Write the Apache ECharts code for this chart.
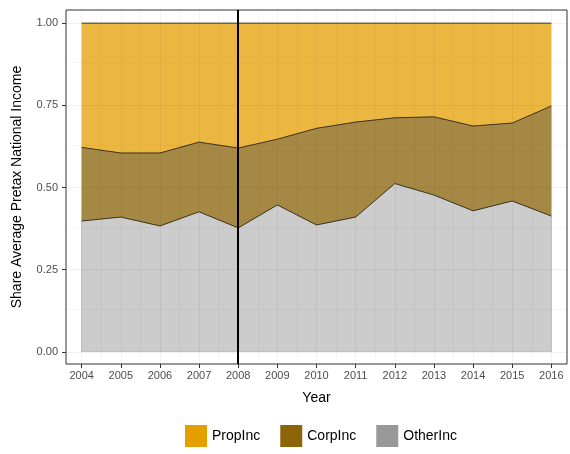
<!DOCTYPE html><html><head><meta charset="utf-8"><script src="https://cdn.jsdelivr.net/npm/echarts@6/dist/echarts.min.js"></script></head><body style="margin:0"><div id="c" style="width:570px;height:454px"></div><script>
const years=[2004,2005,2006,2007,2008,2009,2010,2011,2012,2013,2014,2015,2016];
const otherInc=[0.398,0.410,0.383,0.426,0.377,0.447,0.386,0.410,0.512,0.477,0.429,0.459,0.413];
const corpInc=[0.224,0.195,0.222,0.212,0.243,0.200,0.294,0.289,0.200,0.238,0.258,0.237,0.335];
const propInc=[0.378,0.395,0.395,0.362,0.380,0.353,0.320,0.301,0.288,0.285,0.313,0.304,0.252];
const yTicks=[0,0.25,0.5,0.75,1];
const cum1=otherInc, cum2=otherInc.map((v,i)=>v+corpInc[i]), cum3=cum2.map((v,i)=>v+propInc[i]);
const F='Liberation Sans, Arial, sans-serif';
const mk=(name,data,col,z)=>({name,type:'line',data:data.map((v,i)=>[years[i],v]),symbol:'none',
 lineStyle:{color:'#3a3220',width:1},itemStyle:{color:col},areaStyle:{color:col,opacity:1},z});
const majX=years, minX=years.slice(0,-1).map(y=>y+0.5);
const majY=yTicks, minY=[0.125,0.375,0.625,0.875];
const c=echarts.init(document.getElementById('c'));
c.setOption({animation:false,textStyle:{fontFamily:F},
grid:{left:66,right:3,top:10,bottom:90,show:true,borderColor:'#333',borderWidth:1},
legend:{bottom:2,left:180,itemWidth:22,itemHeight:22,itemGap:20,icon:'rect',textStyle:{fontSize:14,color:'#000',fontFamily:F},
 data:[{name:'PropInc',itemStyle:{color:'#E69F00'}},{name:'CorpInc',itemStyle:{color:'#8B6508'}},{name:'OtherInc',itemStyle:{color:'#999999'}}]},
xAxis:{type:'value',min:2003.6,max:2016.4,name:'Year',nameLocation:'middle',nameGap:27,nameTextStyle:{fontSize:14,color:'#000'},
 axisLine:{show:false,onZero:false},axisTick:{show:true,customValues:years,length:4,lineStyle:{color:'#333'}},
 axisLabel:{customValues:years,formatter:v=>String(v),color:'#4d4d4d',fontSize:11,margin:6},splitLine:{show:false}},
yAxis:{type:'value',min:-0.037,max:1.04,name:'Share Average Pretax National Income',nameLocation:'middle',nameGap:42,nameTextStyle:{fontSize:14,color:'#000'},
 axisLine:{show:false,onZero:false},axisTick:{show:true,customValues:yTicks,length:4,lineStyle:{color:'#333'}},
 axisLabel:{customValues:yTicks,formatter:v=>v.toFixed(2),color:'#4d4d4d',fontSize:11},splitLine:{show:false}},
series:[mk('PropInc',cum3,'#ECB740',2),mk('CorpInc',cum2,'#A58843',3),mk('OtherInc',cum1,'#CCCCCC',4),
 {type:'line',data:[],z:5,markLine:{silent:true,symbol:'none',label:{show:false},lineStyle:{color:'rgba(0,0,0,0.03)',width:1,type:'solid'},
  data:minX.map(x=>({xAxis:x})).concat(minY.map(y=>({yAxis:y})))}},
 {type:'line',data:[],z:5,markLine:{silent:true,symbol:'none',label:{show:false},lineStyle:{color:'rgba(0,0,0,0.05)',width:1,type:'solid'},
  data:majX.map(x=>({xAxis:x})).concat(majY.map(y=>({yAxis:y})))}},
 {type:'line',data:[],z:6,markLine:{silent:true,symbol:'none',label:{show:false},lineStyle:{color:'#000',width:2,type:'solid'},data:[{xAxis:2008}]}}]
});
</script></body></html>
